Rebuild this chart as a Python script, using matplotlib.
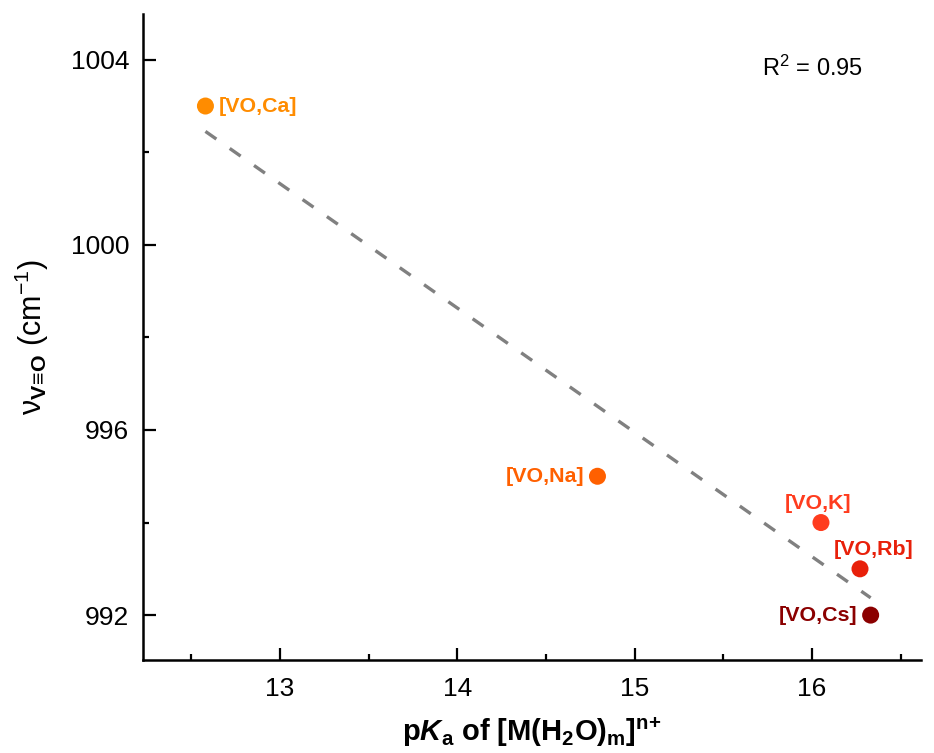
import numpy as np
import matplotlib
matplotlib.use("Agg")
import matplotlib.pyplot as plt
from matplotlib.ticker import MultipleLocator

plt.rcParams["font.family"] = ["Liberation Sans", "DejaVu Sans"]
plt.rcParams["mathtext.fontset"] = "custom"
plt.rcParams["mathtext.rm"] = "Liberation Sans"
plt.rcParams["mathtext.it"] = "Liberation Sans:italic"
plt.rcParams["mathtext.bf"] = "Liberation Sans:bold"
plt.rcParams["mathtext.bfit"] = "Liberation Sans:italic:bold"
plt.rcParams["mathtext.sf"] = "Liberation Sans"

# pKa of the aqua ion vs. V=O stretching frequency
labels = ["[VO,Ca]", "[VO,Na]", "[VO,K]", "[VO,Rb]", "[VO,Cs]"]
pka = [12.58, 14.79, 16.05, 16.27, 16.33]
nu_vo = [1003, 995, 994, 993, 992]
colors = ["#FF8C00", "#FF6000", "#FF3C1E", "#E8200A", "#8B0000"]
r2_text = "R$^2$ = 0.95"

fig = plt.figure(figsize=(9.34, 7.53), dpi=100)
ax = fig.add_axes([0.1531, 0.1235, 0.833, 0.858])

# linear fit across the data range
slope, intercept = np.polyfit(pka, nu_vo, 1)
xf = np.array([min(pka), max(pka)])
ax.plot(xf, slope * xf + intercept, ls=(0, (4, 4.9)), color="#808080", lw=2.4, zorder=1)

ax.scatter(pka, nu_vo, s=150, c=colors, zorder=3, edgecolors="none")

offsets = [(9.5, 0, "left"),
           (-9.5, 0, "right"),
           (-2, 14, "center"),
           (10, 14, "center"),
           (-9.5, 0, "right")]
for lab, x, y, col, (dx, dy, ha) in zip(labels, pka, nu_vo, colors, offsets):
    ax.annotate(lab, (x, y), xytext=(dx, dy), textcoords="offset points",
                ha=ha, va="center", color=col, fontsize=15.4, fontweight="bold")

ax.text(0.86, 0.916, r2_text, transform=ax.transAxes, ha="center", va="center",
        fontsize=17)

ax.set_xlim(12.228, 16.614)
ax.set_ylim(991.03, 1004.99)
ax.xaxis.set_major_locator(MultipleLocator(1))
ax.xaxis.set_minor_locator(MultipleLocator(0.5))
ax.yaxis.set_major_locator(MultipleLocator(4))
ax.yaxis.set_minor_locator(MultipleLocator(2))
ax.tick_params(which="both", direction="in", width=1.6, labelsize=19)
ax.tick_params(axis="x", pad=12)
ax.tick_params(axis="y", pad=10)
ax.tick_params(which="major", length=9)
ax.tick_params(which="minor", length=4.5)
for s in ("top", "right"):
    ax.spines[s].set_visible(False)
for s in ("left", "bottom"):
    ax.spines[s].set_linewidth(1.8)

ax.set_xlabel(r"$\mathbf{p}\mathbfit{K}_\mathbf{a}\ \mathbf{of\ [M(H_2O)_m]^{n{+}}}$",
              fontsize=21, labelpad=11)
ax.set_ylabel(r"ν$_{\mathbf{V\!\equiv\!O}}$ (cm$^{-1}$)", fontsize=22, labelpad=14)

fig.savefig("out.png", dpi=100)
